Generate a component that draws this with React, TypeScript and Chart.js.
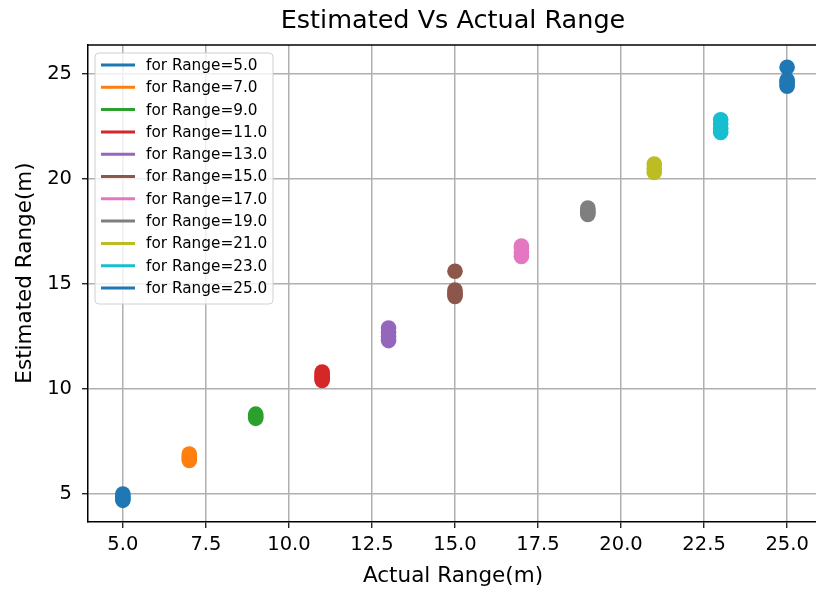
import React, { useEffect, useRef } from "react";
import { Chart, registerables } from "chart.js";

Chart.register(...registerables);

const TITLE = "Estimated Vs Actual Range";
const X_LABEL = "Actual Range(m)";
const Y_LABEL = "Estimated Range(m)";

const actualRanges = [5, 7, 9, 11, 13, 15, 17, 19, 21, 23, 25];
const est5 = [4.7, 4.8, 4.9, 5.0];
const est7 = [6.6, 6.7, 6.8, 6.9];
const est9 = [8.6, 8.7, 8.8];
const est11 = [10.4, 10.5, 10.6, 10.7, 10.8];
const est13 = [12.3, 12.5, 12.7, 12.9];
const est15 = [15.6, 14.4, 14.5, 14.6, 14.7];
const est17 = [16.3, 16.5, 16.7, 16.8];
const est19 = [18.3, 18.4, 18.5, 18.6];
const est21 = [20.3, 20.5, 20.7];
const est23 = [22.2, 22.4, 22.6, 22.8];
const est25 = [25.3, 24.4, 24.5, 24.6, 24.7];
const estimates = [est5, est7, est9, est11, est13, est15, est17, est19, est21, est23, est25];

const colors = [
  "#1f77b4", "#ff7f0e", "#2ca02c", "#d62728", "#9467bd", "#8c564b",
  "#e377c2", "#7f7f7f", "#bcbd22", "#17becf", "#1f77b4",
];

const xTicks = [5, 7.5, 10, 12.5, 15, 17.5, 20, 22.5, 25];
const yTicks = [5, 10, 15, 20, 25];

const FONT = "'DejaVu Sans', sans-serif";

const areaPlugin = {
  id: "areaFix",
  afterLayout(chart: any) {
    const a = chart.chartArea;
    a.right = 816;
    a.width = a.right - a.left;
    const xs = chart.scales.x;
    xs.right = 816;
    xs.width = xs.right - xs.left;
    xs.configure();
  },
};

const decorPlugin = {
  id: "decor",
  afterDraw(chart: any) {
    const ctx = chart.ctx;
    const a = chart.chartArea;
    ctx.save();
    // top spine
    ctx.strokeStyle = "#000";
    ctx.lineWidth = 1.5;
    ctx.beginPath();
    ctx.moveTo(a.left, a.top);
    ctx.lineTo(816, a.top);
    ctx.stroke();

    // title
    ctx.fillStyle = "#000";
    ctx.textAlign = "center";
    ctx.textBaseline = "middle";
    ctx.font = `25.5px ${FONT}`;
    ctx.fillText(TITLE, 453, 21);

    // x label
    ctx.font = `21.5px ${FONT}`;
    ctx.fillText(X_LABEL, 453, 576);

    // y label
    ctx.save();
    ctx.translate(25, 273);
    ctx.rotate(-Math.PI / 2);
    ctx.fillText(Y_LABEL, 0, 0);
    ctx.restore();

    // legend
    const lx = a.left + 7;
    const ly = a.top + 8;
    const lw = 178;
    const lh = 251;
    const r = 4;
    ctx.beginPath();
    ctx.moveTo(lx + r, ly);
    ctx.lineTo(lx + lw - r, ly);
    ctx.quadraticCurveTo(lx + lw, ly, lx + lw, ly + r);
    ctx.lineTo(lx + lw, ly + lh - r);
    ctx.quadraticCurveTo(lx + lw, ly + lh, lx + lw - r, ly + lh);
    ctx.lineTo(lx + r, ly + lh);
    ctx.quadraticCurveTo(lx, ly + lh, lx, ly + lh - r);
    ctx.lineTo(lx, ly + r);
    ctx.quadraticCurveTo(lx, ly, lx + r, ly);
    ctx.closePath();
    ctx.fillStyle = "rgba(255,255,255,0.8)";
    ctx.fill();
    ctx.strokeStyle = "#d0d0d0";
    ctx.lineWidth = 1;
    ctx.stroke();

    ctx.font = `15.3px ${FONT}`;
    ctx.textAlign = "left";
    ctx.textBaseline = "middle";
    chart.data.datasets.forEach((ds: any, i: number) => {
      const y = ly + 12 + i * 22.3;
      ctx.strokeStyle = ds.backgroundColor;
      ctx.lineWidth = 3;
      ctx.beginPath();
      ctx.moveTo(lx + 6, y);
      ctx.lineTo(lx + 40, y);
      ctx.stroke();
      ctx.fillStyle = "#000";
      ctx.fillText(ds.label, lx + 51, y + 1);
    });
    ctx.restore();
  },
};

export default function App() {
  const ref = useRef<HTMLCanvasElement | null>(null);

  useEffect(() => {
    if (!ref.current) return;
    const datasets = actualRanges.map((r, i) => ({
      label: `for Range=${r.toFixed(1)}`,
      data: estimates[i].map((v) => ({ x: r, y: v })),
      backgroundColor: colors[i],
      borderColor: colors[i],
      borderWidth: 0,
      pointRadius: 7.8,
      pointHoverRadius: 7.8,
    }));

    const chart = new Chart(ref.current, {
      type: "scatter",
      data: { datasets },
      plugins: [areaPlugin, decorPlugin],
      options: {
        responsive: false,
        animation: false,
        layout: { padding: { top: 45, left: 0, right: 0, bottom: 0 } },
        plugins: {
          legend: { display: false },
          title: { display: false },
          tooltip: { enabled: false },
        },
        scales: {
          x: {
            type: "linear",
            min: 3.95,
            max: 25.87,
            z: 1,
            afterBuildTicks: (s: any) => {
              s.ticks = xTicks.map((v) => ({ value: v }));
            },
            afterFit: (s: any) => {
              s.height = 68;
              s.paddingLeft = 0;
              s.paddingRight = 0;
            },
            ticks: {
              callback: (v: any) => Number(v).toFixed(1),
              font: { family: FONT, size: 19.5 },
              color: "#000",
              padding: 5,
              maxRotation: 0,
              autoSkip: false,
            },
            grid: {
              color: "#b0b0b0",
              lineWidth: 1.5,
              tickColor: "#000",
              tickLength: 6,
              tickWidth: 1.2,
            },
            border: { color: "#000", width: 1.5 },
          },
          y: {
            type: "linear",
            min: 3.67,
            max: 26.36,
            z: 1,
            afterBuildTicks: (s: any) => {
              s.ticks = yTicks.map((v) => ({ value: v }));
            },
            afterFit: (s: any) => {
              s.width = 88;
              s.paddingTop = 0;
              s.paddingBottom = 0;
            },
            ticks: {
              callback: (v: any) => String(v),
              font: { family: FONT, size: 19.5 },
              color: "#000",
              padding: 10,
              autoSkip: false,
            },
            grid: {
              color: "#b0b0b0",
              lineWidth: 1.5,
              tickColor: "#000",
              tickLength: 6,
              tickWidth: 1.2,
            },
            border: { color: "#000", width: 1.5 },
          },
        },
      },
    });
    return () => chart.destroy();
  }, []);

  return (
    <div style={{ position: "absolute", left: 0, top: 0, width: 816, height: 590 }}>
      <canvas ref={ref} width={816} height={590} style={{ width: 816, height: 590 }} />
    </div>
  );
}
